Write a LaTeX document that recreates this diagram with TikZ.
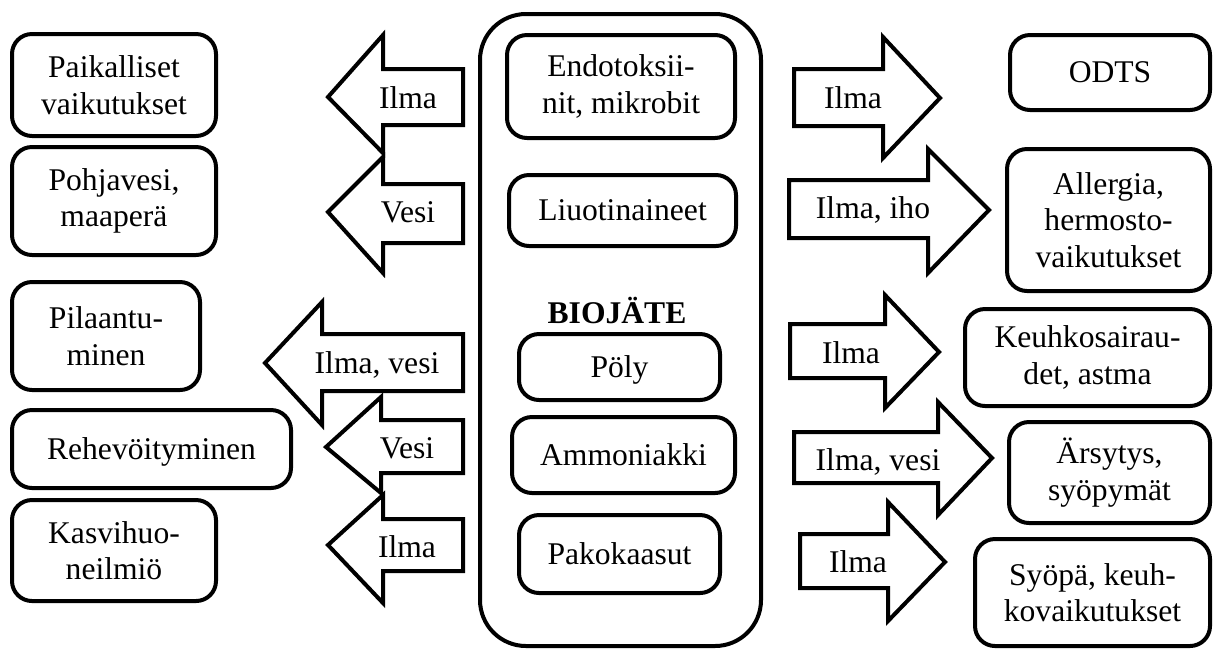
\documentclass[tikz,border=0pt]{standalone}
\usepackage{fontspec}
\setmainfont{Liberation Serif}

% rounded box given by its outer corners (x1,y1) and (x2,y2), in pixel units
\newcommand{\rbox}[7][]{%
  \node[box,#1,
        minimum width={(#5-#3-4)*0.5pt},
        minimum height={(#6-#4-4)*0.5pt}]
        (#2) at ({(#3+#5)/2},{(#4+#6)/2}) {#7};}

% block arrow: tip, head base x, head top/bottom, shaft top/bottom, tail x
\newcommand{\blockarr}[8]{%
  \draw[blockarrow] (#1,#2) -- (#3,#4) -- (#3,#6) -- (#8,#6) -- (#8,#7)
        -- (#3,#7) -- (#3,#5) -- cycle;}

\tikzset{
  every node/.style={font=\fontsize{15.8}{18.3}\selectfont},
  box/.style={draw, line width=2pt, rounded corners=10pt, align=center,
              inner sep=0pt, fill=white},
  one/.style={text height=10.4pt, text depth=0pt},
  blockarrow/.style={draw, line width=2pt, line join=miter, fill=white},
  lbl/.style={inner sep=0pt, anchor=base},
}

\begin{document}
\begin{tikzpicture}[x=0.5pt, y=-0.5pt]
\useasboundingbox (0,0) rectangle (1214,650);

% central container
\node[box, rounded corners=23pt,
      minimum width={(763-478-4)*0.5pt}, minimum height={(648-12-4)*0.5pt}]
      (bio) at ({(478+763)/2},{(12+648)/2}) {};
\node[font=\fontsize{15.8}{18.3}\selectfont\bfseries, lbl] (biotitle) at (617,323) {BIOJÄTE};

% sources inside the container
\rbox{endo}{505}{33}{737}{140}{Endotoksii-\\nit, mikrobit}
\rbox[one]{liuo}{507}{173}{738}{248}{Liuotinaineet}
\rbox[one]{poly}{517}{332}{722}{402}{Pöly}
\rbox[one]{ammo}{510}{415}{737}{495}{Ammoniakki}
\rbox[one]{pako}{517}{513}{722}{595}{Pakokaasut}

% environmental effects (left)
\rbox{paik}{10}{32}{218}{138}{Paikalliset\\vaikutukset}
\rbox{pohj}{10}{145}{218}{257}{Pohjavesi,\\maaperä}
\rbox{pila}{10}{280}{202}{392}{Pilaantu-\\minen}
\rbox[one]{rehe}{10}{408}{293}{490}{Rehevöityminen}
\rbox{kasv}{10}{498}{218}{603}{Kasvihuo-\\neilmiö}

% health effects (right)
\rbox[one]{odts}{1008}{33}{1212}{112}{ODTS}
\rbox{alle}{1005}{147}{1212}{293}{Allergia,\\hermosto-\\vaikutukset}
\rbox{keuh}{963}{307}{1212}{408}{Keuhkosairau-\\det, astma}
\rbox{arsy}{1007}{420}{1212}{525}{Ärsytys,\\syöpymät}
\rbox{syop}{973}{537}{1212}{648}{Syöpä, keuh-\\kovaikutukset}

% pathways to the environment
\blockarr{328}{97}{383}{35}{153}{69}{125}{463}
\blockarr{328}{212}{383}{157}{273}{184}{243}{463}
\blockarr{265}{363}{322}{302}{425}{334}{391}{463}
\blockarr{326}{447}{381}{397}{493}{420}{473}{463}
\blockarr{328}{545}{383}{495}{603}{519}{571}{463}
\node[lbl] (la1) at (408,108) {Ilma};
\node[lbl] (la2) at (408,222) {Vesi};
\node[lbl] (la3) at (377,373) {Ilma, vesi};
\node[lbl] (la4) at (407,458) {Vesi};
\node[lbl] (la5) at (407,557) {Ilma};

% exposure routes to health effects
\blockarr{940}{98}{883}{37}{158}{69}{126}{794}
\blockarr{989}{210}{928}{149}{273}{180}{238}{789}
\blockarr{939}{352}{885}{295}{408}{324}{378}{790}
\blockarr{992}{458}{938}{402}{515}{432}{483}{794}
\blockarr{945}{562}{888}{502}{621}{534}{588}{800}
\node[lbl] (ra1) at (853,108) {Ilma};
\node[lbl] (ra2) at (873,218) {Ilma, iho};
\node[lbl] (ra3) at (851,363) {Ilma};
\node[lbl] (ra4) at (878,470) {Ilma, vesi};
\node[lbl] (ra5) at (858,572) {Ilma};
\end{tikzpicture}
\end{document}
